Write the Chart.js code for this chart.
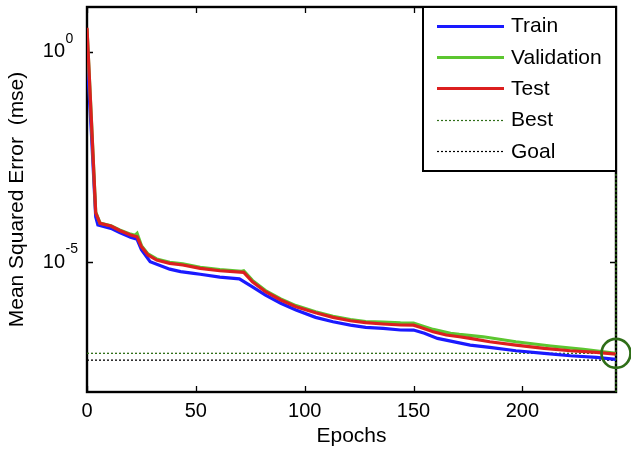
<!DOCTYPE html>
<html>
<head>
<meta charset="utf-8">
<script src="https://cdn.jsdelivr.net/npm/chart.js@4/dist/chart.umd.min.js"></script>
<style>
  html, body { margin: 0; padding: 0; background: #ffffff; }
  #wrap { width: 631px; height: 454px; }
</style>
</head>
<body>
<div id="wrap"><canvas id="c" width="631" height="454"></canvas></div>
<script>
// ---- data ----
const trainEpochs = [0, 2, 4, 5, 11, 15, 20, 23, 25, 29, 38, 43, 49, 52, 61, 70, 76, 82, 89, 96, 105, 113, 121, 128, 136, 144, 150, 155, 161, 171, 176, 185, 197, 210, 222, 234, 243];
const trainMse    = [0.8, 0.012, 1.2e-4, 7.6e-5, 6.3e-5, 5.0e-5, 3.9e-5, 3.47e-5, 1.95e-5, 1.02e-5, 6.76e-6, 5.9e-6, 5.37e-6, 5.13e-6, 4.37e-6, 3.98e-6, 2.57e-6, 1.64e-6, 1.05e-6, 7.24e-7, 4.84e-7, 3.8e-7, 3.16e-7, 2.8e-7, 2.65e-7, 2.42e-7, 2.41e-7, 2.02e-7, 1.53e-7, 1.2e-7, 1.06e-7, 9.4e-8, 7.78e-8, 6.75e-8, 5.92e-8, 5.42e-8, 4.86e-8];

const valEpochs = [0, 2, 4, 6, 11, 15, 20, 22, 23, 25, 28, 32, 38, 44, 52, 61, 71, 72, 76, 82, 89, 96, 105, 113, 121, 128, 136, 144, 150, 153, 159, 167, 171, 182, 197, 213, 228, 243];
const valMse    = [3.5, 0.026, 1.55e-4, 8.4e-5, 7.3e-5, 5.8e-5, 4.6e-5, 4.3e-5, 4.8e-5, 2.45e-5, 1.56e-5, 1.18e-5, 9.9e-6, 9.0e-6, 7.5e-6, 6.6e-6, 6.0e-6, 6.2e-6, 3.65e-6, 2.1e-6, 1.33e-6, 9.2e-7, 6.6e-7, 5.15e-7, 4.3e-7, 3.85e-7, 3.75e-7, 3.56e-7, 3.55e-7, 3.15e-7, 2.5e-7, 2.02e-7, 1.9e-7, 1.67e-7, 1.27e-7, 1.01e-7, 8.4e-8, 6.75e-8];

const testEpochs = [0, 2, 4, 6, 11, 15, 20, 23, 25, 28, 32, 38, 44, 52, 61, 72, 76, 82, 89, 96, 105, 113, 121, 128, 136, 144, 150, 153, 159, 165, 171, 176, 185, 197, 210, 222, 234, 243];
const testMse    = [3.72, 0.024, 1.48e-4, 8.3e-5, 7.18e-5, 5.62e-5, 4.39e-5, 3.98e-5, 2.31e-5, 1.47e-5, 1.11e-5, 9.31e-6, 8.49e-6, 7.08e-6, 6.21e-6, 5.69e-6, 3.40e-6, 1.97e-6, 1.25e-6, 8.65e-7, 6.24e-7, 4.84e-7, 4.02e-7, 3.61e-7, 3.36e-7, 3.18e-7, 3.16e-7, 2.80e-7, 2.20e-7, 1.84e-7, 1.67e-7, 1.53e-7, 1.27e-7, 1.06e-7, 8.87e-8, 7.78e-8, 7.13e-8, 6.46e-8];

const bestEpoch = 243;
const bestValue = 6.75e-8;
const goalValue = 4.65e-8;

const xRange = [0, 243];
const yRange = [8.13e-9, 11.56];
const xTickValues = [0, 50, 100, 150, 200];
const yTickValues = [1e-5, 1];
const yTickBase = ['10', '10'];
const yTickExponents = ['-5', '0'];

const legendLabels = ['Train', 'Validation', 'Test', 'Best', 'Goal'];

// ---- styles ----
const FONT = '"Liberation Sans", Arial, Helvetica, sans-serif';
const cTrain = '#1a1aff';
const cVal = '#5cc630';
const cTest = '#dc1f1f';
const cBest = '#2f6e18';
const cGoal = '#000000';

const pts = (xs, ys) => xs.map((x, i) => ({x: x, y: ys[i]}));

const datasets = [
  {label: 'Train', data: pts(trainEpochs, trainMse), borderColor: cTrain, borderWidth: 3.2, order: 3},
  {label: 'Validation', data: pts(valEpochs, valMse), borderColor: cVal, borderWidth: 3.2, order: 2},
  {label: 'Test', data: pts(testEpochs, testMse), borderColor: cTest, borderWidth: 3.2, order: 1},
  {label: 'Best', data: [{x: xRange[0], y: bestValue}, {x: bestEpoch, y: bestValue}], borderColor: cBest, borderWidth: 1.3, borderDash: [2, 2], order: 4},
  {label: 'Goal', data: [{x: xRange[0], y: goalValue}, {x: xRange[1], y: goalValue}], borderColor: cGoal, borderWidth: 1.3, borderDash: [2, 2], order: 4},
  {label: 'BestEpoch', data: [{x: bestEpoch, y: yRange[0]}, {x: bestEpoch, y: yRange[1]}], borderColor: cBest, borderWidth: 1.4, borderDash: [2, 2], order: 0, clip: false},
  {label: 'BestPoint', data: [{x: bestEpoch, y: bestValue}], showLine: false, pointRadius: 14.5, pointBorderWidth: 2.7, pointBorderColor: cBest, pointBackgroundColor: 'rgba(0,0,0,0)', order: -1, clip: false}
];
datasets.forEach(d => { if (d.pointRadius === undefined) d.pointRadius = 0; d.tension = 0; d.fill = false; });

const framePlugin = {
  id: 'frame',
  beforeDatasetsDraw(chart) {
    const {ctx, chartArea: a, scales: {x, y}} = chart;
    ctx.save();
    ctx.strokeStyle = '#000';
    ctx.lineWidth = 1.3;
    ctx.beginPath();
    x.ticks.forEach(t => {
      const px = Math.round(x.getPixelForValue(t.value)) + 0.5;
      ctx.moveTo(px, a.bottom); ctx.lineTo(px, a.bottom - 6);
      ctx.moveTo(px, a.top); ctx.lineTo(px, a.top + 6);
    });
    y.ticks.forEach(t => {
      const py = Math.round(y.getPixelForValue(t.value)) + 0.5;
      ctx.moveTo(a.left, py); ctx.lineTo(a.left + 6, py);
      ctx.moveTo(a.right, py); ctx.lineTo(a.right - 6, py);
    });
    ctx.stroke();
    ctx.lineWidth = 2.4;
    ctx.strokeRect(a.left, a.top, a.right - a.left, a.bottom - a.top);
    // exponents of the y tick labels (superscripts)
    ctx.fillStyle = '#000';
    ctx.font = '14px ' + FONT;
    ctx.textBaseline = 'middle';
    ctx.textAlign = 'left';
    y.ticks.forEach(t => {
      const i = yTickValues.indexOf(t.value);
      if (i < 0) return;
      const py = y.getPixelForValue(t.value);
      ctx.fillText(yTickExponents[i], 65.5, py - 13);
    });
    ctx.restore();
  },
  afterDatasetsDraw(chart) {
    const {ctx, chartArea: a} = chart;
    const w = 193, h = 164;
    const bx = a.right - w, by = a.top;
    ctx.save();
    ctx.fillStyle = '#fff';
    ctx.fillRect(bx, by, w, h);
    ctx.strokeStyle = '#000';
    ctx.lineWidth = 2;
    ctx.strokeRect(bx, by, w, h);
    ctx.font = '21px ' + FONT;
    ctx.textBaseline = 'middle';
    ctx.textAlign = 'left';
    legendLabels.forEach((lab, i) => {
      const ds = chart.data.datasets.find(d => d.label === lab);
      const yy = by + 18.5 + i * 31.4;
      ctx.save();
      ctx.strokeStyle = ds.borderColor;
      ctx.lineWidth = ds.borderDash ? 1.2 : 3;
      ctx.setLineDash(ds.borderDash || []);
      ctx.beginPath();
      ctx.moveTo(bx + 14, Math.round(yy) + 0.5);
      ctx.lineTo(bx + 81, Math.round(yy) + 0.5);
      ctx.stroke();
      ctx.restore();
      ctx.fillStyle = '#000';
      ctx.fillText(lab, bx + 88, yy + 1);
    });
    ctx.restore();
  }
};

new Chart(document.getElementById('c'), {
  type: 'line',
  data: {datasets: datasets},
  options: {
    responsive: false,
    animation: false,
    events: [],
    layout: {autoPadding: false, padding: {left: 0, right: 15, top: 7, bottom: 0}},
    plugins: {legend: {display: false}, tooltip: {enabled: false}},
    scales: {
      x: {
        type: 'linear',
        min: xRange[0], max: xRange[1],
        afterBuildTicks: s => { s.ticks = xTickValues.map(v => ({value: v})); },
        afterFit: s => { s.height = 62; s.paddingLeft = 0; s.paddingRight = 0; },
        grid: {display: false, drawTicks: false},
        border: {display: false},
        ticks: {color: '#000', font: {family: FONT, size: 20}, padding: 7, maxRotation: 0, autoSkip: false},
        title: {display: true, text: 'Epochs', color: '#000', font: {family: FONT, size: 21}, padding: {top: 0, bottom: 5}}
      },
      y: {
        type: 'logarithmic',
        min: yRange[0], max: yRange[1],
        afterBuildTicks: s => { s.ticks = yTickValues.map(v => ({value: v})); },
        afterFit: s => { s.width = 87; s.paddingTop = 0; s.paddingBottom = 0; },
        grid: {display: false, drawTicks: false},
        border: {display: false},
        ticks: {
          color: '#000', font: {family: FONT, size: 20}, padding: 22, autoSkip: false,
          callback: (v) => { const i = yTickValues.indexOf(v); return i >= 0 ? yTickBase[i] : ''; }
        },
        title: {display: true, text: 'Mean Squared Error  (mse)', color: '#000', font: {family: FONT, size: 21}, padding: {top: 5, bottom: 0}}
      }
    }
  },
  plugins: [framePlugin]
});
</script>
</body>
</html>
